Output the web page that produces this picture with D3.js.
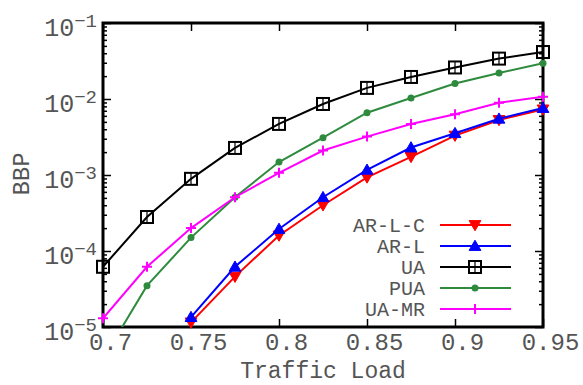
<!DOCTYPE html>
<html>
<head>
<meta charset="utf-8">
<script src="https://cdn.jsdelivr.net/npm/d3@7"></script>
<style>
  body { margin: 0; background: #fff; }
  svg { display: block; }
  text { font-family: "Liberation Mono", "Courier New", monospace; fill: #555; }
</style>
</head>
<body>
<svg id="chart" width="583" height="385"></svg>
<script>
// traffic load values (x) and blocking probability for each scheme
const loads = [0.7, 0.725, 0.75, 0.775, 0.8, 0.825, 0.85, 0.875, 0.9, 0.925, 0.95]
const arlc = [null, null, 1.15e-5, 4.6e-5, 1.6e-4, 4.0e-4, 9.3e-4, 1.73e-3, 3.3e-3, 5.3e-3, 7.3e-3]
const arl = [null, null, 1.35e-5, 6.2e-5, 1.95e-4, 5.1e-4, 1.17e-3, 2.3e-3, 3.55e-3, 5.5e-3, 7.6e-3]
const ua = [6.2e-5, 2.8e-4, 8.9e-4, 2.27e-3, 4.7e-3, 8.6e-3, 1.4e-2, 1.95e-2, 2.6e-2, 3.4e-2, 4.15e-2]
const pua = [3.8e-6, 3.5e-5, 1.5e-4, 5.1e-4, 1.48e-3, 3.1e-3, 6.6e-3, 1.03e-2, 1.6e-2, 2.2e-2, 2.96e-2]
const uamr = [1.3e-5, 6.2e-5, 2.0e-4, 5.1e-4, 1.07e-3, 2.1e-3, 3.2e-3, 4.7e-3, 6.3e-3, 8.9e-3, 1.07e-2]

const xTicks = [0.7, 0.75, 0.8, 0.85, 0.9, 0.95]
const yTicks = [1e-5, 1e-4, 1e-3, 1e-2, 1e-1]

const series = [
  {name: 'AR-L-C', values: arlc, color: '#ff0000', marker: 'tri-down'},
  {name: 'AR-L', values: arl, color: '#0000ff', marker: 'tri-up'},
  {name: 'UA', values: ua, color: '#000000', marker: 'square'},
  {name: 'PUA', values: pua, color: '#2e8b3e', marker: 'dot'},
  {name: 'UA-MR', values: uamr, color: '#ff00ff', marker: 'plus'}
]

const plotL = 103, plotR = 543, plotT = 23, plotB = 327
const svg = d3.select('#chart')

const x = d3.scaleLinear().domain([0.7, 0.95]).range([plotL, plotR])
const y = d3.scaleLog().domain([1e-5, 1e-1]).range([plotB, plotT])

// minor log ticks 2..9 in each decade
let yMinor = []
for (let e = -5; e < -1; e++) {
  for (let m = 2; m <= 9; m++) yMinor.push(m * Math.pow(10, e))
}

svg.append('clipPath').attr('id', 'plot-clip')
  .append('rect').attr('x', plotL).attr('y', plotT).attr('width', plotR - plotL).attr('height', plotB - plotT)

// minor ticks, both sides
svg.append('g').attr('transform', `translate(${plotL},0)`)
  .call(d3.axisLeft(y).tickValues(yMinor).tickSize(-4).tickFormat(''))
svg.append('g').attr('transform', `translate(${plotR},0)`)
  .call(d3.axisRight(y).tickValues(yMinor).tickSize(-4).tickFormat(''))

// major y ticks with 10^n labels
const yAxis = svg.append('g').attr('transform', `translate(${plotL},0)`)
  .call(d3.axisLeft(y).tickValues(yTicks).tickSize(-8).tickPadding(6))
yAxis.selectAll('.tick text').each(function (d) {
  let t = d3.select(this)
  t.text(null).attr('dy', 12).attr('font-size', 25)
  t.append('tspan').text('10')
  t.append('tspan').attr('dy', -9).attr('font-size', 19).text('−' + Math.round(-Math.log10(d)))
})
svg.append('g').attr('transform', `translate(${plotR},0)`)
  .call(d3.axisRight(y).tickValues(yTicks).tickSize(-8).tickFormat(''))

// x ticks bottom and top
const xAxis = svg.append('g').attr('transform', `translate(0,${plotB})`)
  .call(d3.axisBottom(x).tickValues(xTicks).tickSize(-8).tickPadding(6).tickFormat(d3.format('')))
xAxis.selectAll('.tick text').attr('font-size', 24).attr('dx', 7)
svg.append('g').attr('transform', `translate(0,${plotT})`)
  .call(d3.axisTop(x).tickValues(xTicks).tickSize(-8).tickFormat(''))

svg.selectAll('.domain').remove()
svg.selectAll('.tick line').attr('stroke', '#000').attr('stroke-width', 1.5)
svg.selectAll('.tick text').attr('fill', '#555').attr('font-family', '"Liberation Mono", "Courier New", monospace')

// frame
svg.append('rect')
  .attr('x', plotL).attr('y', plotT).attr('width', plotR - plotL).attr('height', plotB - plotT)
  .attr('fill', 'none').attr('stroke', '#000').attr('stroke-width', 3)

function drawMarker (g, kind, color, cx, cy) {
  if (kind === 'tri-up' || kind === 'tri-down') {
    g.append('path')
      .attr('d', d3.symbol().type(d3.symbolTriangle).size(60)())
      .attr('transform', `translate(${cx},${cy + (kind === 'tri-up' ? 1 : -1)}) rotate(${kind === 'tri-up' ? 0 : 180})`)
      .attr('fill', color).attr('stroke', color).attr('stroke-width', 1)
  } else if (kind === 'square') {
    g.append('rect').attr('x', cx - 6).attr('y', cy - 6).attr('width', 12).attr('height', 12)
      .attr('fill', 'none').attr('stroke', color).attr('stroke-width', 2)
    g.append('line').attr('x1', cx).attr('x2', cx).attr('y1', cy - 6).attr('y2', cy + 6)
      .attr('stroke', color).attr('stroke-width', 1.2)
  } else if (kind === 'dot') {
    g.append('circle').attr('cx', cx).attr('cy', cy).attr('r', 3.5).attr('fill', color)
  } else if (kind === 'plus') {
    g.append('path').attr('d', `M${cx - 5},${cy}H${cx + 5}M${cx},${cy - 5}V${cy + 5}`)
      .attr('stroke', color).attr('stroke-width', 2)
  }
}

const line = d3.line()
  .defined(d => d[1] !== null)
  .x(d => x(d[0]))
  .y(d => y(d[1]))

series.forEach(s => {
  let pts = loads.map((l, i) => [l, s.values[i]])
  let g = svg.append('g')
  g.append('path').datum(pts)
    .attr('clip-path', 'url(#plot-clip)')
    .attr('d', line)
    .attr('fill', 'none').attr('stroke', s.color).attr('stroke-width', 2)
  pts.filter(p => p[1] !== null && p[1] >= 1e-5).forEach(p => {
    drawMarker(g, s.marker, s.color, x(p[0]), y(p[1]))
  })
})

// legend
const legend = svg.append('g')
series.forEach((s, i) => {
  let ly = 225 + i * 21
  legend.append('text').attr('x', 425).attr('y', ly + 7)
    .attr('text-anchor', 'end').attr('font-size', 20).text(s.name)
  legend.append('line').attr('x1', 440).attr('x2', 511).attr('y1', ly).attr('y2', ly)
    .attr('stroke', s.color).attr('stroke-width', 2)
  drawMarker(legend, s.marker, s.color, 475, ly)
})

// axis titles
svg.append('text')
  .attr('x', 323).attr('y', 378).attr('text-anchor', 'middle').attr('font-size', 23)
  .text('Traffic Load')
svg.append('text')
  .attr('transform', 'translate(29,174) rotate(-90)')
  .attr('text-anchor', 'middle').attr('font-size', 24)
  .text('BBP')
</script>
</body>
</html>
